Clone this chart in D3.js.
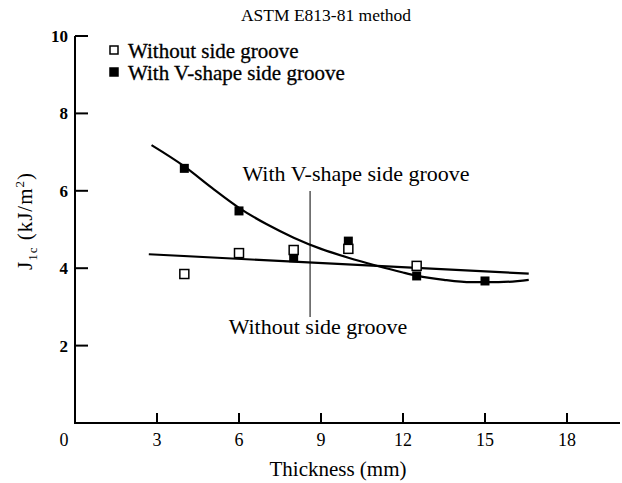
<!DOCTYPE html>
<html>
  <head>
    <style>
      body {
        margin: 0;
        background: #fff;
        font-family: "Liberation Serif", "Times New Roman", serif;
      }
      .fit {
        fill: none;
        stroke: #000;
        stroke-width: 2.2px;
      }
    </style>
  </head>
  <body>
    <script src="https://d3js.org/d3.v7.min.js"></script>
    <script>
      // values
      var xTicks = [3, 6, 9, 12, 15, 18];
      var xLabels = [0, 3, 6, 9, 12, 15, 18];
      var yTicks = [2, 4, 6, 8, 10];

      // open squares: without side groove
      var withoutPts = [[4, 3.85], [6, 4.39], [8, 4.47], [10, 4.50], [12.5, 4.06]];
      // filled squares: with V-shape side groove
      var withPts = [[4, 6.58], [6, 5.48], [8, 4.27], [10, 4.70], [12.5, 3.80], [15, 3.67]];

      // fitted curves
      var withoutFit = [[2.7, 4.36], [16.6, 3.86]];
      var withFit = [[2.8, 7.18], [4, 6.63], [5, 6.08], [6, 5.56], [7, 5.14], [8, 4.79],
                     [9, 4.50], [10, 4.27], [11, 4.07], [12, 3.89], [12.5, 3.81],
                     [13.5, 3.70], [14.5, 3.64], [15.5, 3.64], [16.6, 3.70]];

      var W = 622, H = 483;
      var svg = d3.select("body").append("svg")
        .attr("width", W)
        .attr("height", H);

      var x = d3.scaleLinear().domain([0, 18]).range([75, 567]);
      var y = d3.scaleLinear().domain([0, 10]).range([423, 36]);

      // plain axis lines with inward ticks
      svg.append("line")
        .attr("x1", x(0)).attr("x2", 620)
        .attr("y1", y(0)).attr("y2", y(0))
        .attr("stroke", "#000").attr("stroke-width", 2);
      svg.append("line")
        .attr("x1", x(0)).attr("x2", x(0))
        .attr("y1", y(0) + 1).attr("y2", y(10))
        .attr("stroke", "#000").attr("stroke-width", 2);

      svg.selectAll(".xt").data(xTicks).enter().append("line")
        .attr("x1", d => x(d)).attr("x2", d => x(d))
        .attr("y1", y(0)).attr("y2", y(0) - 10)
        .attr("stroke", "#000").attr("stroke-width", 2);
      svg.selectAll(".yt").data(yTicks).enter().append("line")
        .attr("x1", x(0)).attr("x2", x(0) + 13)
        .attr("y1", d => y(d)).attr("y2", d => y(d))
        .attr("stroke", "#000").attr("stroke-width", 2);

      svg.selectAll(".xl").data(xLabels).enter().append("text")
        .attr("x", d => d == 0 ? x(0) - 11 : x(d))
        .attr("y", 446)
        .attr("text-anchor", "middle")
        .attr("font-size", 18)
        .text(d => d);
      svg.selectAll(".yl").data(yTicks).enter().append("text")
        .attr("x", x(0) - 7)
        .attr("y", d => y(d) + 6)
        .attr("text-anchor", "end")
        .attr("font-size", 17)
        .attr("font-weight", "bold")
        .text(d => d);

      // axis titles
      svg.append("text")
        .attr("x", 338).attr("y", 476)
        .attr("text-anchor", "middle")
        .attr("font-size", 21)
        .text("Thickness (mm)");

      var yt = svg.append("text")
        .attr("transform", "translate(32,221) rotate(-90)")
        .attr("text-anchor", "middle")
        .attr("font-size", 21)
        .attr("letter-spacing", 1);
      yt.append("tspan").text("J");
      yt.append("tspan").attr("font-size", 13).attr("dy", 5).text("1c");
      yt.append("tspan").attr("dy", -5).text(" (kJ/m");
      yt.append("tspan").attr("font-size", 13).attr("dy", -8).text("2");
      yt.append("tspan").attr("dy", 8).text(")");

      // title
      svg.append("text")
        .attr("x", 326).attr("y", 21)
        .attr("text-anchor", "middle")
        .attr("font-size", 17.5)
        .text("ASTM E813-81 method");

      // fitted lines
      var line = d3.line().x(d => x(d[0])).y(d => y(d[1]));
      svg.append("path").attr("class", "fit").datum(withoutFit).attr("d", line);
      svg.append("path").attr("class", "fit").datum(withFit)
        .attr("d", line.curve(d3.curveMonotoneX));

      // points
      var s = 9;
      svg.selectAll(".fp").data(withPts).enter().append("rect")
        .attr("x", d => x(d[0]) - s / 2).attr("y", d => y(d[1]) - s / 2)
        .attr("width", s).attr("height", s)
        .attr("fill", "#000");
      svg.selectAll(".op").data(withoutPts).enter().append("rect")
        .attr("x", d => x(d[0]) - s / 2).attr("y", d => y(d[1]) - s / 2)
        .attr("width", s).attr("height", s)
        .attr("fill", "#fff").attr("stroke", "#000").attr("stroke-width", 1.5);

      // legend
      var legend = [["Without side groove", "#fff"], ["With V-shape side groove", "#000"]];
      var lg = svg.selectAll(".lg").data(legend).enter().append("g")
        .attr("transform", (d, i) => "translate(110," + (50 + i * 22) + ")");
      lg.append("rect")
        .attr("x", 0).attr("y", -4).attr("width", 8).attr("height", 8)
        .attr("fill", d => d[1]).attr("stroke", "#000").attr("stroke-width", 1.5);
      lg.append("text")
        .attr("x", 18).attr("y", 8)
        .attr("font-size", 21)
        .attr("stroke", "#000").attr("stroke-width", 0.3)
        .text(d => d[0]);

      // annotation with vertical marker
      var mx = 8.6;
      svg.append("line")
        .attr("x1", x(mx)).attr("x2", x(mx))
        .attr("y1", 191).attr("y2", 317)
        .attr("stroke", "#000").attr("stroke-width", 1);
      svg.append("text")
        .attr("x", 356).attr("y", 181)
        .attr("text-anchor", "middle")
        .attr("font-size", 22)
        .text("With V-shape side groove");
      svg.append("text")
        .attr("x", 318).attr("y", 334)
        .attr("text-anchor", "middle")
        .attr("font-size", 22)
        .text("Without side groove");
    </script>
  </body>
</html>
